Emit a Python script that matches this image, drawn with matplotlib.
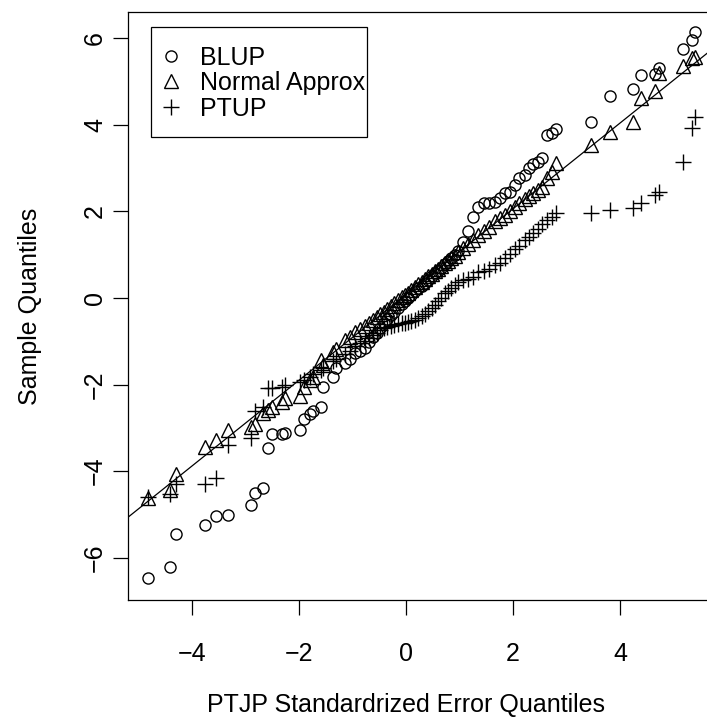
import numpy as np
import matplotlib.pyplot as plt
from matplotlib.lines import Line2D
from matplotlib.patches import Rectangle

plt.rcParams['font.family'] = ['Liberation Sans', 'DejaVu Sans']

# shared theoretical quantiles (x) and the three sample quantile series
ptjp_q = [-4.82, -4.42, -4.30, -3.76, -3.56, -3.32, -2.89, -2.83, -2.67, -2.58,
          -2.50, -2.32, -2.27, -1.99, -1.91, -1.79, -1.73, -1.58, -1.55, -1.36,
          -1.30, -1.14, -1.05, -0.95, -0.86, -0.77, -0.70, -0.62, -0.55, -0.48,
          -0.42, -0.35, -0.28, -0.22, -0.15, -0.08, -0.02, 0.04, 0.10, 0.16,
          0.23, 0.29, 0.35, 0.42, 0.48, 0.54, 0.60, 0.66, 0.73, 0.79,
          0.85, 0.92, 0.98, 1.06, 1.16, 1.26, 1.35, 1.45, 1.55, 1.66,
          1.76, 1.85, 1.94, 2.04, 2.12, 2.22, 2.29, 2.38, 2.46, 2.55,
          2.63, 2.72, 2.80, 3.45, 3.81, 4.25, 4.40, 4.65, 4.72, 5.18,
          5.34, 5.40]

blup = [-6.47, -6.21, -5.45, -5.24, -5.03, -5.02, -4.77, -4.50, -4.38, -3.46,
        -3.15, -3.13, -3.12, -3.05, -2.80, -2.68, -2.62, -2.51, -2.05, -1.82,
        -1.62, -1.50, -1.40, -1.28, -1.22, -1.15, -1.02, -0.90, -0.80, -0.70,
        -0.58, -0.48, -0.40, -0.32, -0.22, -0.15, -0.08, 0.00, 0.08, 0.15,
        0.22, 0.28, 0.35, 0.42, 0.50, 0.58, 0.63, 0.70, 0.78, 0.85,
        0.92, 1.00, 1.08, 1.30, 1.55, 1.88, 2.11, 2.19, 2.19, 2.22,
        2.30, 2.42, 2.45, 2.61, 2.76, 2.84, 3.00, 3.10, 3.15, 3.23,
        3.76, 3.82, 3.90, 4.06, 4.67, 4.82, 5.15, 5.17, 5.32, 5.74,
        5.96, 6.14]

normal_approx = [-4.62, -4.43, -4.07, -3.43, -3.28, -3.05, -2.97, -2.90, -2.65, -2.58,
                 -2.52, -2.40, -2.32, -2.26, -2.05, -1.90, -1.82, -1.43, -1.55, -1.24,
                 -1.18, -0.97, -0.90, -0.78, -0.72, -0.65, -0.58, -0.50, -0.45, -0.38,
                 -0.32, -0.25, -0.18, -0.12, -0.05, 0.02, 0.08, 0.12, 0.18, 0.25,
                 0.32, 0.38, 0.43, 0.50, 0.56, 0.62, 0.68, 0.74, 0.80, 0.86,
                 0.92, 0.98, 1.06, 1.15, 1.25, 1.35, 1.45, 1.55, 1.65, 1.78,
                 1.85, 1.92, 2.00, 2.10, 2.20, 2.28, 2.35, 2.42, 2.50, 2.57,
                 2.76, 2.92, 3.11, 3.53, 3.84, 4.07, 4.63, 4.77, 5.19, 5.35,
                 5.54, 5.56]

ptup = [-4.60, -4.53, -4.30, -4.30, -4.15, -3.39, -3.24, -2.62, -2.51, -2.08,
        -2.09, -2.05, -2.01, -1.93, -1.89, -1.82, -1.75, -1.66, -1.62, -1.45,
        -1.40, -1.30, -1.22, -1.12, -1.05, -1.00, -0.92, -0.85, -0.80, -0.75,
        -0.70, -0.66, -0.64, -0.62, -0.60, -0.58, -0.57, -0.55, -0.52, -0.50,
        -0.47, -0.42, -0.36, -0.30, -0.24, -0.16, -0.08, 0.00, 0.11, 0.17,
        0.22, 0.30, 0.38, 0.42, 0.45, 0.49, 0.61, 0.63, 0.68, 0.76,
        0.80, 0.92, 1.02, 1.12, 1.20, 1.35, 1.42, 1.49, 1.60, 1.70,
        1.80, 1.88, 1.96, 1.97, 2.03, 2.07, 2.19, 2.38, 2.45, 3.15,
        3.92, 4.19]

line_intercept = 0.08
line_slope = 0.99

fig = plt.figure(figsize=(7.07, 7.22), dpi=100)
ax = fig.add_axes([0.18105, 0.16898, 0.8331, 0.8144])

mew = 1.0
ax.plot(ptjp_q, blup, ls='none', marker='o', ms=8, mfc='none', mec='black', mew=mew)
ax.plot(ptjp_q, normal_approx, ls='none', marker='^', ms=10, mfc='none', mec='black', mew=mew)
ax.plot(ptjp_q, ptup, ls='none', marker='+', ms=12, mec='black', mew=mew)
ax.axline((0, line_intercept), slope=line_slope, color='black', lw=0.9)

ax.set_xlim(-5.196, 5.813)
ax.set_ylim(-6.975, 6.605)
ax.set_xticks([-4, -2, 0, 2, 4])
ax.set_yticks([-6, -4, -2, 0, 2, 4, 6])
ax.tick_params(axis='both', direction='out', length=11, width=0.9, labelsize=18, colors='black')
ax.tick_params(axis='x', pad=19)
ax.tick_params(axis='y', pad=4)
plt.setp(ax.get_yticklabels(), rotation=90, va='center')
for s in ax.spines.values():
    s.set_linewidth(0.9)

ax.set_xlabel('PTJP Standardrized Error Quantiles', fontsize=18)
ax.set_ylabel('Sample Quantiles', fontsize=18)
ax.xaxis.set_label_coords((406 - 128) / 589, -(693 - 600) / 588)
ax.yaxis.set_label_coords(-(128 - 42) / 589, 0.5)

# legend: frame drawn separately so the text can sit close to its right edge
ax.add_patch(Rectangle((0.0385, 0.7879), 0.3677, 0.1861, transform=ax.transAxes,
                       fill=False, edgecolor='black', lw=0.9, zorder=5))
handles = [
    Line2D([], [], ls='none', marker='o', ms=8, mfc='none', mec='black', mew=mew),
    Line2D([], [], ls='none', marker='^', ms=10, mfc='none', mec='black', mew=mew),
    Line2D([], [], ls='none', marker='+', ms=12, mec='black', mew=mew),
]
ax.legend(handles, ['BLUP', 'Normal Approx', 'PTUP'], loc='upper left',
          bbox_to_anchor=(0.0518, 0.9429), borderaxespad=0, fontsize=18,
          frameon=False, labelspacing=0.06, borderpad=0,
          handlelength=1.0, handletextpad=0.66)

fig.savefig('out.png', dpi=100)
